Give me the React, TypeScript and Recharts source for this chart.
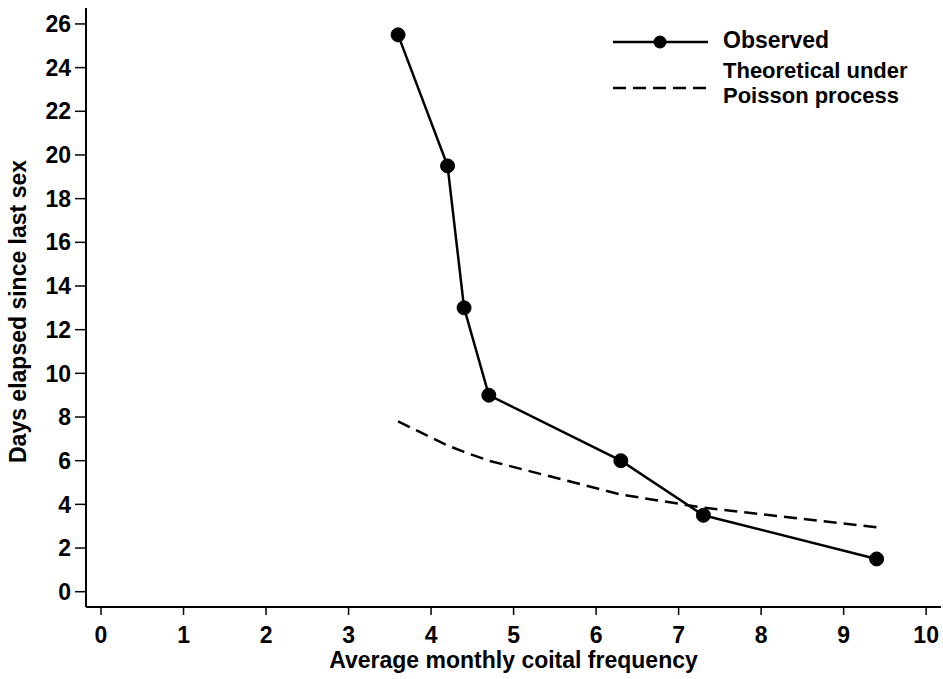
import { LineChart, Line, XAxis, YAxis, Label } from "recharts";

// ── Data ──────────────────────────────────────────────────────────────────────

const frequency = [3.6, 4.2, 4.4, 4.7, 6.3, 7.3, 9.4];
const observed = [25.5, 19.5, 13.0, 9.0, 6.0, 3.5, 1.5];
const theoretical = [7.8, 6.7, 6.4, 6.0, 4.45, 3.85, 2.95];

const xTicks = [0, 1, 2, 3, 4, 5, 6, 7, 8, 9, 10];
const yTicks = [0, 2, 4, 6, 8, 10, 12, 14, 16, 18, 20, 22, 24, 26];

const data = frequency.map((f, i) => ({
  freq: f,
  observed: observed[i],
  theoretical: theoretical[i],
}));

const FONT = "'Liberation Sans', Arial, Helvetica, sans-serif";
const FS = 23;

// ── Legend (drawn as an overlay, top right) ───────────────────────────────────

function ChartLegend() {
  return (
    <svg
      width={330}
      height={110}
      style={{ position: "absolute", left: 600, top: 0, overflow: "visible" }}
    >
      <g fontFamily={FONT} fontWeight="bold" fontSize={22} fill="#000">
        <line x1={13} y1={42} x2={108} y2={42} stroke="#000" strokeWidth={2.5} />
        <circle cx={60} cy={42} r={6.5} fill="#000" />
        <text x={123} y={48} fontSize={FS}>Observed</text>
        <line
          x1={13}
          y1={88}
          x2={108}
          y2={88}
          stroke="#000"
          strokeWidth={2.5}
          strokeDasharray="13 7"
        />
        <text x={123} y={78}>Theoretical under</text>
        <text x={123} y={103}>Poisson process</text>
      </g>
    </svg>
  );
}

// ── Axis titles ───────────────────────────────────────────────────────────────

function XTitle(props: any) {
  const vb = props.viewBox ?? { x: 0, y: 0, width: 0, height: 0 };
  return (
    <text
      x={vb.x + vb.width / 2}
      y={vb.y + 61}
      textAnchor="middle"
      fontFamily={FONT}
      fontWeight="bold"
      fontSize={FS}
      fill="#000"
    >
      Average monthly coital frequency
    </text>
  );
}

function YTitle(props: any) {
  const vb = props.viewBox ?? { x: 0, y: 0, width: 0, height: 0 };
  const cx = 26;
  const cy = vb.y + vb.height / 2 + 4;
  return (
    <text
      x={cx}
      y={cy}
      transform={`rotate(-90, ${cx}, ${cy})`}
      textAnchor="middle"
      fontFamily={FONT}
      fontWeight="bold"
      fontSize={FS}
      fill="#000"
    >
      Days elapsed since last sex
    </text>
  );
}

// ── Chart ─────────────────────────────────────────────────────────────────────

export default function App() {
  const tickStyle = { fontSize: FS, fill: "#000", fontFamily: FONT, fontWeight: "bold" };
  return (
    <div style={{ position: "absolute", left: 0, top: 0, width: 943, height: 679, background: "#fff" }}>
      <LineChart
        width={943}
        height={679}
        data={data}
        margin={{ top: 8, right: 2, bottom: 0, left: 26 }}
      >
        <XAxis
          type="number"
          dataKey="freq"
          domain={[-0.182, 10.18]}
          ticks={xTicks}
          allowDataOverflow
          height={72}
          tick={tickStyle}
          tickSize={8}
          tickMargin={12}
          axisLine={{ stroke: "#000", strokeWidth: 2 }}
          tickLine={{ stroke: "#000", strokeWidth: 1.5 }}
        >
          <Label content={<XTitle />} />
        </XAxis>
        <YAxis
          type="number"
          domain={[-0.7, 26.73]}
          ticks={yTicks}
          allowDataOverflow
          width={60}
          tick={tickStyle}
          tickSize={11}
          tickMargin={4}
          axisLine={{ stroke: "#000", strokeWidth: 2 }}
          tickLine={{ stroke: "#000", strokeWidth: 1.5 }}
        >
          <Label content={<YTitle />} />
        </YAxis>
        <Line
          type="linear"
          dataKey="theoretical"
          stroke="#000"
          strokeWidth={2.5}
          strokeDasharray="13 7"
          dot={false}
          activeDot={false}
          isAnimationActive={false}
        />
        <Line
          type="linear"
          dataKey="observed"
          stroke="#000"
          strokeWidth={2.5}
          dot={{ r: 7, fill: "#000", stroke: "#000", strokeWidth: 1 }}
          activeDot={false}
          isAnimationActive={false}
        />
      </LineChart>
      <ChartLegend />
    </div>
  );
}
